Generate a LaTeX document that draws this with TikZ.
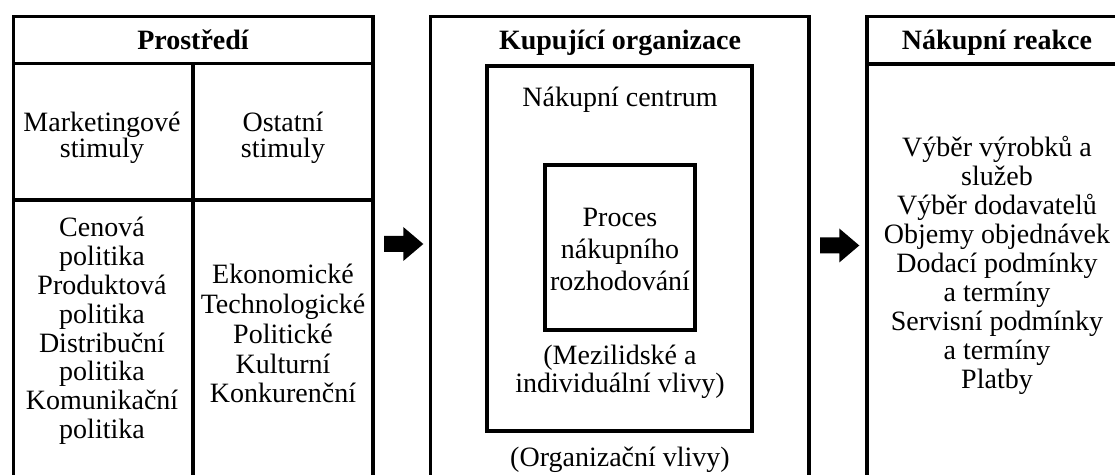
\documentclass[tikz,border=0pt]{standalone}
\usepackage{fontspec}
\setmainfont{Liberation Serif}
\begin{document}
\begin{tikzpicture}[x=0.5pt,y=-0.5pt,
  frame/.style={line width=1.7pt},
  txt/.style={font=\fontsize{14}{14.5}\selectfont, align=center, inner sep=0pt, anchor=base},
  head/.style={txt, font=\fontsize{14}{14.5}\selectfont\bfseries},
  pics/blockarrow/.style={code={
    \fill (0,-8) -- (19.3,-8) -- (19.3,-17) -- (39.3,0) -- (19.3,17) -- (19.3,8) -- (0,8) -- cycle;}}]
\useasboundingbox (0,0) rectangle (1115,475);
\clip (0,0) rectangle (1115,475);

% Environment panel (open at the bottom)
\draw[frame] (13.5,490) |- (373,16.5) -- (373,490);
\draw[frame] (13.5,63.5) -- (373,63.5);
\draw[frame] (13.5,200) -- (373,200);
\draw[frame] (193,63.5) -- (193,490);

% Buying organisation panel with nested boxes
\draw[frame] (430.7,490) |- (809,16.5) -- (809,490);
\draw[frame] (487,66) rectangle (752,431);
\draw[frame] (545,165) rectangle (695,330);

% Buying response panel
\draw[frame] (867,490) |- (1130,16.5);
\draw[frame] (867,64) -- (1130,64);

% Block arrows between the panels
\pic (arr1) at (384,244) {blockarrow};
\pic (arr2) at (820,245.5) {blockarrow};

% Headings
\node[head] (env) at (193,50) {Prostředí};
\node[head] (org) at (620,50) {Kupující organizace};
\node[head] (resp) at (997,50) {Nákupní reakce};

% Environment texts (multi-line nodes sit on the baseline of their last line)
\node[txt, font=\fontsize{14}{13}\selectfont] (mkt) at (102,158) {Marketingové\\stimuly};
\node[txt, font=\fontsize{14}{13}\selectfont] (oth) at (283,158) {Ostatní\\stimuly};
\node[txt, font=\fontsize{14}{14.4}\selectfont] (mix) at (102,438.6)
  {Cenová\\politika\\Produktová\\politika\\Distribuční\\politika\\Komunikační\\politika};
\node[txt, font=\fontsize{14}{14.9}\selectfont] (ext) at (283,403)
  {Ekonomické\\Technologické\\Politické\\Kulturní\\Konkurenční};

% Buying organisation texts
\node[txt] (centre) at (620,107) {Nákupní centrum};
\node[txt, font=\fontsize{14}{16.2}\selectfont] (proc) at (620,291) {Proces\\nákupního\\rozhodování};
\node[txt, font=\fontsize{14}{14}\selectfont] (pers) at (620,393) {(Mezilidské a\\individuální vlivy)};
\node[txt] (orginf) at (620,467) {(Organizační vlivy)};

% Buying response list
\node[txt] (list) at (997,389)
  {Výběr výrobků a\\služeb\\Výběr dodavatelů\\Objemy objednávek\\Dodací podmínky\\a termíny\\Servisní podmínky\\a termíny\\Platby};
\end{tikzpicture}
\end{document}
